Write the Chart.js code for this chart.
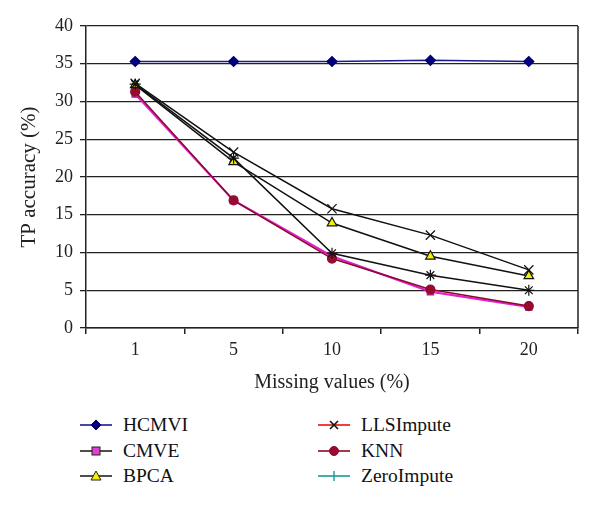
<!DOCTYPE html>
<html>
<head>
<meta charset="utf-8">
<script src="https://cdn.jsdelivr.net/npm/chart.js@4.4.1/dist/chart.umd.min.js"></script>
<style>
  html, body { margin: 0; padding: 0; background: #fff; }
  #wrap { position: relative; width: 600px; height: 507px; }
  #box { position: absolute; left: 0; top: 0; width: 600px; height: 400px; }
  .lg { position: absolute; font-family: "Liberation Serif", "DejaVu Serif", serif; font-size: 19.5px; color: #111; }
  .lg-item { position: absolute; white-space: nowrap; height: 22px; line-height: 22px; }
  .lg-item svg { position: absolute; left: 0; top: 0; }
  .lg-item span { position: absolute; left: 43px; top: 0; }
</style>
</head>
<body>
<div id="wrap">
  <div id="box"><canvas id="chart"></canvas></div>
  <div id="legend"></div>
</div>
<script>
// ---- data ----
const missing = ['1', '5', '10', '15', '20'];
const hcmvi      = [35.3, 35.3, 35.3, 35.45, 35.3];
const cmve       = [31.0, 16.9, 9.5, 4.8, 2.8];
const bpca       = [32.2, 22.0, 13.9, 9.5, 6.9];
const llsImpute  = [32.4, 23.3, 15.8, 12.3, 7.7];
const knn        = [31.3, 16.9, 9.2, 5.1, 2.9];
const zeroImpute = [32.3, 22.5, 9.9, 7.0, 5.0];
const yTicks = [0, 5, 10, 15, 20, 25, 30, 35, 40];

const serif = '"Liberation Serif", "DejaVu Serif", serif';

function series(label, data, line, style) {
  return Object.assign({
    label, data,
    borderColor: line, borderWidth: 1.5,
    pointBorderWidth: 1.2, tension: 0, fill: false
  }, style);
}

// first dataset is painted on top
const datasets = [
  series('ZeroImpute', zeroImpute, '#111', { pointStyle: 'star', pointRadius: 5.5, pointBorderColor: '#111', pointBackgroundColor: '#111' }),
  series('BPCA', bpca, '#111', { pointStyle: 'triangle', pointRadius: 5.5, pointBorderColor: '#111', pointBackgroundColor: '#f4f000' }),
  series('LLSImpute', llsImpute, '#111', { pointStyle: 'crossRot', pointRadius: 6.5, pointBorderColor: '#111' }),
  series('KNN', knn, '#8a0a2a', { pointStyle: 'circle', pointRadius: 4.5, pointBorderColor: '#8a0a2a', pointBackgroundColor: '#9a0a30' }),
  series('CMVE', cmve, '#e020d0', { pointStyle: 'rect', pointRadius: 4.5, pointBorderColor: '#b01890', pointBackgroundColor: '#e040d0', borderWidth: 2.2 }),
  series('HCMVI', hcmvi, '#1a1a90', { pointStyle: 'rectRot', pointRadius: 5, pointBorderColor: '#000070', pointBackgroundColor: '#000080' })
];

const frame = {
  id: 'frame',
  afterDraw(chart) {
    const { ctx, chartArea: a } = chart;
    ctx.save();
    ctx.strokeStyle = '#222';
    ctx.lineWidth = 1.5;
    ctx.beginPath();
    ctx.moveTo(a.right, a.top);
    ctx.lineTo(a.right, a.bottom);
    ctx.stroke();
    ctx.restore();
  }
};

new Chart(document.getElementById('chart'), {
  type: 'line',
  data: { labels: missing, datasets },
  options: {
    responsive: true, maintainAspectRatio: false, animation: false,
    layout: { padding: { left: 0, right: 22, top: 26, bottom: 0 } },
    plugins: { legend: { display: false }, tooltip: { enabled: false } },
    scales: {
      x: {
        offset: true,
        grid: { offset: true, drawOnChartArea: false, drawTicks: true, tickLength: 6, color: '#222', lineWidth: 1.5 },
        border: { color: '#222', width: 1.5 },
        ticks: { color: '#222', font: { family: serif, size: 18 }, padding: 5 },
        title: { display: true, text: 'Missing values (%)', color: '#222', font: { family: serif, size: 20 }, padding: { top: 0, bottom: 5 } },
        afterFit: s => { s.height = 72; }
      },
      y: {
        min: 0, max: 40,
        afterBuildTicks: s => { s.ticks = yTicks.map(v => ({ value: v })); },
        grid: { color: '#222', lineWidth: 1.3, tickLength: 6 },
        border: { color: '#222', width: 1.5 },
        ticks: { color: '#222', font: { family: serif, size: 18 }, padding: 7 },
        title: { display: true, text: 'TP accuracy (%)', color: '#222', font: { family: serif, size: 21 }, padding: { top: 17, bottom: 0 } },
        afterFit: s => { s.width = 86; }
      }
    }
  },
  plugins: [frame]
});

// ---- legend (two columns, line + marker swatches) ----
const legendItems = [
  { name: 'HCMVI', x: 80, y: 414, line: '#1a1a90', mark: '<path d="M16 6 L21 11 L16 16 L11 11 Z" fill="#000080" stroke="#000070"/>' },
  { name: 'CMVE', x: 80, y: 440, line: '#222', mark: '<rect x="12" y="7" width="8" height="8" fill="#e040d0" stroke="#222"/>' },
  { name: 'BPCA', x: 80, y: 465, line: '#222', mark: '<path d="M16 6 L21 15 L11 15 Z" fill="#f4f000" stroke="#222"/>' },
  { name: 'LLSImpute', x: 318, y: 414, line: '#ee1010', mark: '<path d="M12 7 L20 15 M20 7 L12 15" stroke="#111" stroke-width="1.6"/>' },
  { name: 'KNN', x: 318, y: 440, line: '#8a0a2a', mark: '<circle cx="16" cy="11" r="4.5" fill="#9a0a30" stroke="#8a0a2a"/>' },
  { name: 'ZeroImpute', x: 318, y: 465, line: '#1a9a9a', mark: '<path d="M16 6 L16 16" stroke="#1a9a9a" stroke-width="1.4"/>' }
];
const lg = document.getElementById('legend');
lg.className = 'lg';
lg.style.left = '0px'; lg.style.top = '0px';
legendItems.forEach(it => {
  const d = document.createElement('div');
  d.className = 'lg-item';
  d.style.left = it.x + 'px';
  d.style.top = it.y + 'px';
  d.innerHTML = '<svg width="32" height="22"><line x1="0" y1="11" x2="32" y2="11" stroke="' + it.line + '" stroke-width="1.6"/>' + it.mark + '</svg><span>' + it.name + '</span>';
  lg.appendChild(d);
});
</script>
</body>
</html>
